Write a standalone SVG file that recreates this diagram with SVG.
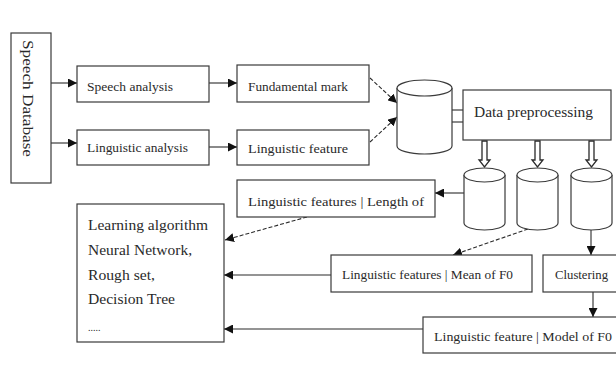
<svg xmlns="http://www.w3.org/2000/svg" width="616" height="379" viewBox="0 0 616 379">
<defs>
<style>
.box{fill:#fff;stroke:#3a3a3a;stroke-width:1.2}
.cyl{fill:#fff;stroke:#3a3a3a;stroke-width:1.2}
.t{font-family:"Liberation Serif","Times New Roman",serif;fill:#2a2a2a}
.s{font-size:12px}
.m{font-size:14px}
.c{stroke:#2a2a2a;stroke-width:1.1;fill:none}
.d{stroke-dasharray:4 2}
.blk{fill:#fff;stroke:#2a2a2a;stroke-width:1.3}
</style>
<marker id="ah" viewBox="0 0 10 10" refX="10" refY="5" markerWidth="9" markerHeight="9" markerUnits="userSpaceOnUse" orient="auto">
<path d="M0,0 L10,5 L0,10 z" fill="#111"/>
</marker>
</defs>
<rect width="616" height="379" fill="#fff"/>

<g id="connectors">
<line class="c" x1="51" y1="83" x2="77" y2="83" marker-end="url(#ah)"/>
<line class="c" x1="51" y1="143" x2="77" y2="143" marker-end="url(#ah)"/>
<line class="c" x1="209" y1="83" x2="237" y2="83" marker-end="url(#ah)"/>
<line class="c" x1="209" y1="147" x2="237" y2="147" marker-end="url(#ah)"/>
<line class="c d" x1="370" y1="78" x2="397" y2="103" marker-end="url(#ah)"/>
<line class="c d" x1="370" y1="142" x2="397" y2="117" marker-end="url(#ah)"/>
<line class="c" x1="452" y1="110" x2="463" y2="110"/>
<line class="c" x1="452" y1="122" x2="463" y2="122"/>
<path class="blk" d="M482,141 L482,160 L479,160 L484.5,167 L490,160 L487,160 L487,141 z"/>
<path class="blk" d="M535,141 L535,160 L532,160 L537.5,167 L543,160 L540,160 L540,141 z"/>
<path class="blk" d="M589,141 L589,160 L586,160 L591.5,167 L597,160 L594,160 L594,141 z"/>
<line class="c" x1="464" y1="193" x2="435" y2="193" marker-end="url(#ah)"/>
<line class="c d" x1="307" y1="217" x2="225" y2="240" marker-end="url(#ah)"/>
<line class="c d" x1="528" y1="229" x2="453" y2="255" marker-end="url(#ah)"/>
<line class="c" x1="331" y1="275" x2="224" y2="275" marker-end="url(#ah)"/>
<line class="c" x1="591" y1="230" x2="591" y2="255" marker-end="url(#ah)"/>
<line class="c" x1="593" y1="292" x2="593" y2="317" marker-end="url(#ah)"/>
<line class="c" x1="423" y1="329" x2="224" y2="329" marker-end="url(#ah)"/>
</g>

<g id="speech-database">
<rect class="box" x="11" y="33" width="40" height="150"/>
<text class="t m" transform="translate(23,40) rotate(90)" textLength="117" lengthAdjust="spacingAndGlyphs">Speech Database</text>
</g>
<g id="speech-analysis">
<rect class="box" x="77" y="66" width="132" height="36"/>
<text class="t s" x="87" y="91" textLength="86" lengthAdjust="spacingAndGlyphs">Speech analysis</text>
</g>
<g id="linguistic-analysis">
<rect class="box" x="77" y="130" width="132" height="35"/>
<text class="t s" x="87" y="152" textLength="101" lengthAdjust="spacingAndGlyphs">Linguistic analysis</text>
</g>
<g id="fundamental-mark">
<rect class="box" x="237" y="65" width="132" height="37"/>
<text class="t s" x="248" y="91" textLength="100" lengthAdjust="spacingAndGlyphs">Fundamental mark</text>
</g>
<g id="linguistic-feature">
<rect class="box" x="237" y="130" width="132" height="35"/>
<text class="t s" x="248" y="153" textLength="100" lengthAdjust="spacingAndGlyphs">Linguistic feature</text>
</g>
<g id="database">
<path class="cyl" d="M397,88 A27.5,8 0 0 1 452,88 L452,146 A27.5,8 0 0 1 397,146 z"/>
<path class="cyl" d="M397,88 A27.5,8 0 0 0 452,88"/>
</g>
<g id="data-preprocessing">
<rect class="box" x="463" y="90" width="148" height="50"/>
<text class="t m" x="474" y="117" textLength="119" lengthAdjust="spacingAndGlyphs">Data preprocessing</text>
</g>
<g id="db1">
<path class="cyl" d="M464,175 A20.5,7 0 0 1 505,175 L505,223 A20.5,7 0 0 1 464,223 z"/>
<path class="cyl" d="M464,175 A20.5,7 0 0 0 505,175"/>
</g>
<g id="db2">
<path class="cyl" d="M517,175 A20.5,7 0 0 1 558,175 L558,223 A20.5,7 0 0 1 517,223 z"/>
<path class="cyl" d="M517,175 A20.5,7 0 0 0 558,175"/>
</g>
<g id="db3">
<path class="cyl" d="M571,175 A20.5,7 0 0 1 612,175 L612,223 A20.5,7 0 0 1 571,223 z"/>
<path class="cyl" d="M571,175 A20.5,7 0 0 0 612,175"/>
</g>
<g id="length-box">
<rect class="box" x="237" y="180" width="198" height="37"/>
<text class="t s" x="248" y="206" textLength="176" lengthAdjust="spacingAndGlyphs">Linguistic features | Length of</text>
</g>
<g id="learning-algorithm">
<rect class="box" x="77" y="204" width="147" height="138"/>
<text class="t m" x="88" y="230" textLength="120" lengthAdjust="spacingAndGlyphs">Learning algorithm</text>
<text class="t m" x="88" y="255" textLength="104" lengthAdjust="spacingAndGlyphs">Neural Network,</text>
<text class="t m" x="88" y="280" textLength="67" lengthAdjust="spacingAndGlyphs">Rough set,</text>
<text class="t m" x="88" y="304" textLength="87" lengthAdjust="spacingAndGlyphs">Decision Tree</text>
<text class="t" x="88" y="331" font-size="10">.....</text>
</g>
<g id="mean-box">
<rect class="box" x="331" y="255" width="201" height="37"/>
<text class="t s" x="342" y="279" textLength="171" lengthAdjust="spacingAndGlyphs">Linguistic features | Mean of F0</text>
</g>
<g id="clustering">
<rect class="box" x="543" y="255" width="80" height="37"/>
<text class="t s" x="555" y="279" textLength="53" lengthAdjust="spacingAndGlyphs">Clustering</text>
</g>
<g id="model-box">
<rect class="box" x="423" y="317" width="200" height="36"/>
<text class="t s" x="434" y="341" textLength="178" lengthAdjust="spacingAndGlyphs">Linguistic feature | Model of F0</text>
</g>
</svg>
